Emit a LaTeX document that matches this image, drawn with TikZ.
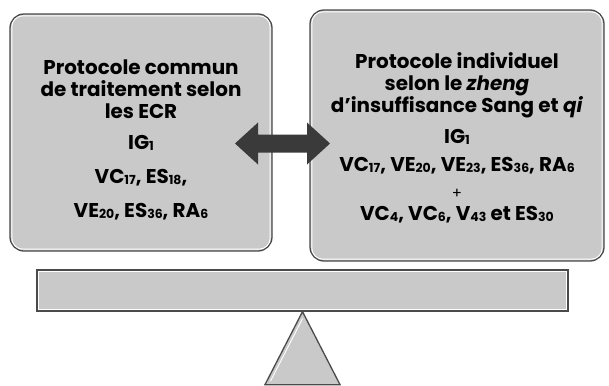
\documentclass[tikz,border=0pt]{standalone}
\usepackage{fontspec}
\setmainfont{Poppins}
\usepackage{xcolor}
\usetikzlibrary{positioning}
\definecolor{panelgray}{HTML}{C9C9C9}
\definecolor{edgegray}{HTML}{4A4A4A}
\definecolor{arrowgray}{HTML}{3A3A3A}
\newcommand\ix[1]{\raisebox{-1bp}{\fontsize{12.5}{12.5}\selectfont #1}}

\begin{document}
\begin{tikzpicture}[x=1bp, y=-1bp,
        panel/.style={draw=edgegray, fill=panelgray, line width=1.3bp, rectangle,
                      rounded corners=14bp, align=center, inner sep=0pt,
                      font=\fontsize{20}{22}\selectfont\bfseries},
        shine/.style={draw=white, line width=0.9bp, rounded corners=11bp},
        plank/.style={draw=edgegray, fill=panelgray, line width=1.3bp, rectangle,
                      minimum width=531bp, minimum height=41bp, inner sep=0pt},
        twohead/.style={fill=arrowgray}
    ]
        \useasboundingbox (0,0) rectangle (609,385);

        \node[panel, minimum width=262bp, minimum height=237bp] (common) at (141,132.5)
            {\rule{0pt}{29.5bp}Protocole commun\\de traitement selon\\les ECR\\[10bp]
             IG\ix{1}\\[12bp]
             VC\ix{17}, ES\ix{18},\\[12bp]
             VE\ix{20}, ES\ix{36}, RA\ix{6}};
        \node[panel, minimum width=294bp, minimum height=251bp] (individual) at (457,135.5)
            {\rule{0pt}{20.5bp}Protocole individuel\\selon le \textit{zheng}\\d'insuffisance Sang et \textit{qi}\\[10bp]
             IG\ix{1}\\[6bp]
             VC\ix{17}, VE\ix{20}, VE\ix{23}, ES\ix{36}, RA\ix{6}\\[5bp]
             {\fontsize{15}{15}\selectfont\mdseries +}\\[0bp]
             VC\ix{4}, VC\ix{6}, V\ix{43} et ES\ix{30}};
        \node[plank] (beam) at (302.5,290.5) {};

        \draw[shine] ([shift={(2.5,2.5)}]common.north west) rectangle ([shift={(-2.5,-2.5)}]common.south east);
        \draw[shine] ([shift={(2.5,2.5)}]individual.north west) rectangle ([shift={(-2.5,-2.5)}]individual.south east);
        \draw[shine, rounded corners=0pt] ([shift={(2.5,2.5)}]beam.north west) rectangle ([shift={(-2.5,-2.5)}]beam.south east);

        \coordinate (mid) at (282.5,143.5);
        \fill[twohead, shift={(mid)}] (-47.5,0) -- (-24.5,-21) -- (-24.5,-9) -- (24.5,-9)
            -- (24.5,-21) -- (47.5,0) -- (24.5,21) -- (24.5,9) -- (-24.5,9) -- (-24.5,21) -- cycle;

        \draw[draw=edgegray, fill=panelgray, line width=1.3bp] (beam.south) -- ++(-37.5,73) -- ++(75,0) -- cycle;
        \draw[draw=white, line width=0.9bp] ([shift={(0,7)}]beam.south) -- ++(-32,62.5);
    \end{tikzpicture}
\end{document}
